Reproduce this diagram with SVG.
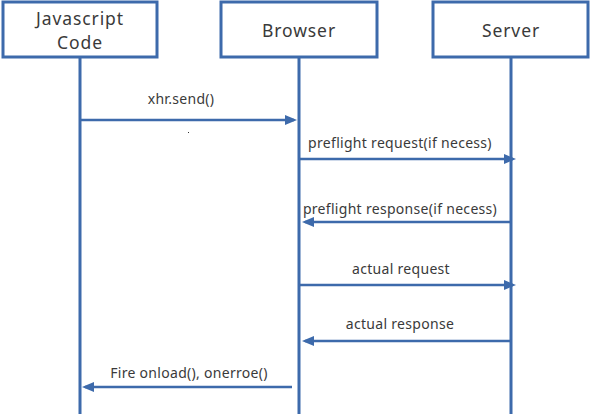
<svg xmlns="http://www.w3.org/2000/svg" width="591" height="417" viewBox="0 0 591 417">
<style>
.box{fill:#fff;stroke:#3d6aab;stroke-width:3}
.life{stroke:#3d6aab;stroke-width:3;fill:none}
.msg{stroke:#3d6aab;stroke-width:2.5;fill:none;marker-end:url(#ah)}
.t{font-family:"Noto Sans","Open Sans",sans-serif;fill:#3a3a3a;text-anchor:middle}
.title{font-size:17.5px;letter-spacing:0.9px}
.lbl{font-size:14px;letter-spacing:0.3px}
</style>
<defs>
<marker id="ah" markerUnits="userSpaceOnUse" markerWidth="14" markerHeight="12" refX="9" refY="5" orient="auto">
<path d="M0,0 L12,5 L0,10 z" fill="#3d6aab"/>
</marker>
</defs>
<g id="lifelines">
<line class="life" x1="80" y1="57" x2="80" y2="414"/>
<line class="life" x1="299" y1="57" x2="299" y2="414"/>
<line class="life" x1="511" y1="57" x2="511" y2="414"/>
</g>
<g id="js">
<rect class="box" x="3" y="2" width="154" height="55"/>
<text class="t title" x="80" y="25">Javascript</text>
<text class="t title" x="80" y="49">Code</text>
</g>
<g id="browser">
<rect class="box" x="221" y="2" width="156" height="55"/>
<text class="t title" x="299" y="37">Browser</text>
</g>
<g id="server">
<rect class="box" x="433" y="2" width="155" height="55"/>
<text class="t title" x="511" y="37">Server</text>
</g>
<g id="connectors">
<line class="msg" x1="80" y1="120" x2="294" y2="120"/>
<line class="msg" x1="299" y1="159" x2="513" y2="159"/>
<line class="msg" x1="511" y1="222" x2="305" y2="222"/>
<line class="msg" x1="299" y1="285" x2="513" y2="285"/>
<line class="msg" x1="511" y1="341" x2="305" y2="341"/>
<line class="msg" x1="292" y1="387" x2="85" y2="387"/>
<text class="t lbl" x="181" y="104">xhr.send()</text>
<text class="t lbl" x="400" y="148">preflight request(if necess)</text>
<text class="t lbl" x="400" y="214">preflight response(if necess)</text>
<text class="t lbl" x="401" y="274">actual request</text>
<text class="t lbl" x="400" y="329">actual response</text>
<text class="t lbl" x="189" y="378">Fire onload(), onerroe()</text>
<rect x="188" y="132" width="1" height="1" fill="#333"/>
</g>
</svg>
